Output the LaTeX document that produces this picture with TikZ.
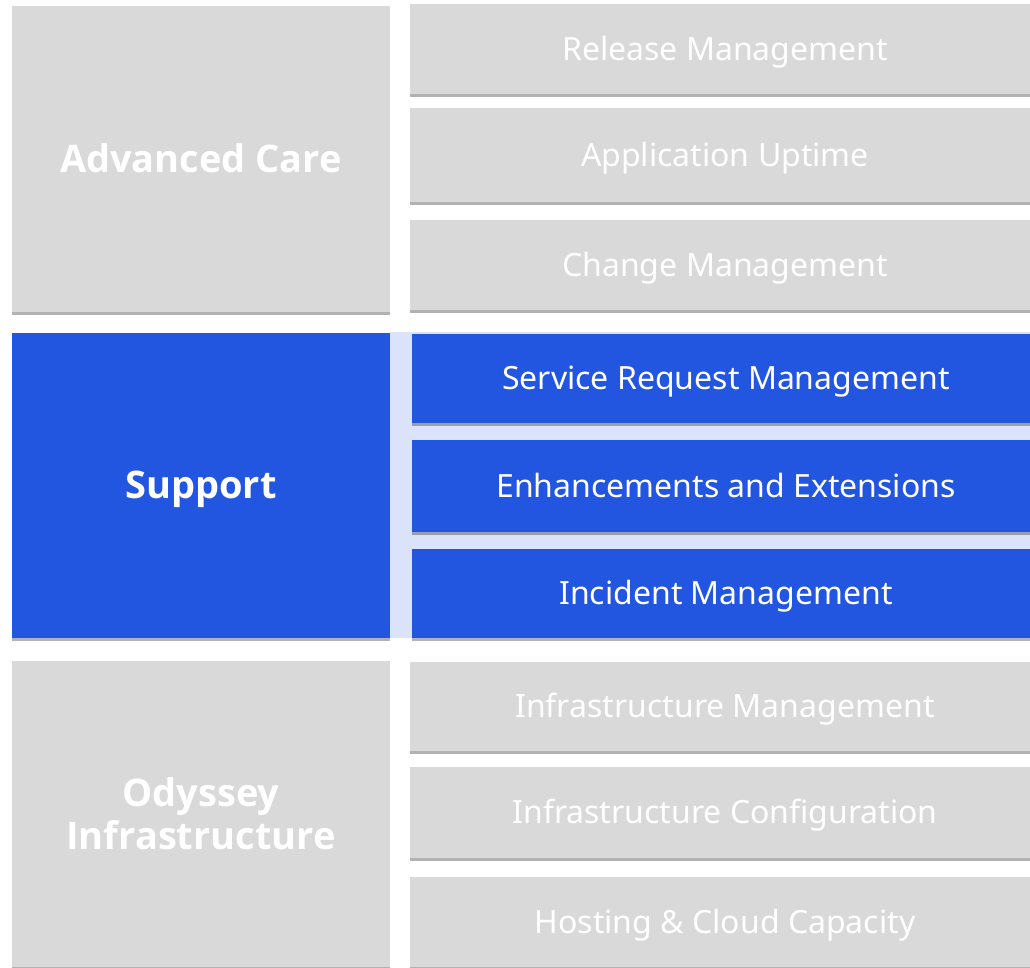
\documentclass[tikz,border=0pt]{standalone}
\usepackage{fontspec}
\setmainfont{Noto Sans}
\newfontfamily\headfont{Open Sans}
\usetikzlibrary{shadows}
\definecolor{boxgray}{HTML}{D9D9D9}
\definecolor{boxblue}{HTML}{2356E0}
\definecolor{lightblue}{HTML}{DAE3FA}
\tikzset{
  sh/.style={drop shadow={shadow xshift=0pt, shadow yshift=-3pt, opacity=0.3, fill=black}},
  graybox/.style={fill=boxgray, sh, draw=none, text=white, inner sep=0pt},
  bluebox/.style={fill=boxblue, sh, draw=none, text=white, inner sep=0pt},
  bigtxt/.style={font=\headfont\fontsize{38}{43}\selectfont\bfseries, text height=26pt, text depth=0pt},
  twoline/.style={font=\headfont\fontsize{38}{43}\selectfont\bfseries, align=center},
  smalltxt/.style={font=\fontsize{32}{38}\selectfont, text height=30pt, text depth=7.4pt},
}
\begin{document}
\begin{tikzpicture}[x=1pt,y=-1pt]
\useasboundingbox (0,0) rectangle (1030,967);
\fill[lightblue] (390,332) rectangle (1030,638);
% left column
\node[graybox, bigtxt, minimum width=378pt, minimum height=306pt] (adv) at (201,159) {Advanced Care};
\node[bluebox, bigtxt, minimum width=378pt, minimum height=305pt] (sup) at (201,485.5) {Support};
\node[graybox, twoline, minimum width=378pt, minimum height=306pt] (ody) at (201,814) {Odyssey\\Infrastructure};
% right column
\node[graybox, smalltxt, minimum width=630pt, minimum height=90pt] (rel) at (725,49) {Release Management};
\node[graybox, smalltxt, minimum width=630pt, minimum height=94pt] (app) at (725,155) {Application Uptime};
\node[graybox, smalltxt, minimum width=630pt, minimum height=90pt] (chg) at (725,265) {Change Management};
\node[bluebox, smalltxt, minimum width=628pt, minimum height=89pt] (srm) at (726,378.5) {Service Request Management};
\node[bluebox, smalltxt, minimum width=628pt, minimum height=92pt] (enh) at (726,486) {Enhancements and Extensions};
\node[bluebox, smalltxt, minimum width=628pt, minimum height=89pt] (inc) at (726,593.5) {Incident Management};
\node[graybox, smalltxt, minimum width=630pt, minimum height=89pt] (ifm) at (725,706.5) {Infrastructure Management};
\node[graybox, smalltxt, minimum width=630pt, minimum height=91pt] (ifc) at (725,812.5) {Infrastructure Configuration};
\node[graybox, smalltxt, minimum width=630pt, minimum height=90pt] (host) at (725,922) {Hosting \& Cloud Capacity};
\end{tikzpicture}
\end{document}
